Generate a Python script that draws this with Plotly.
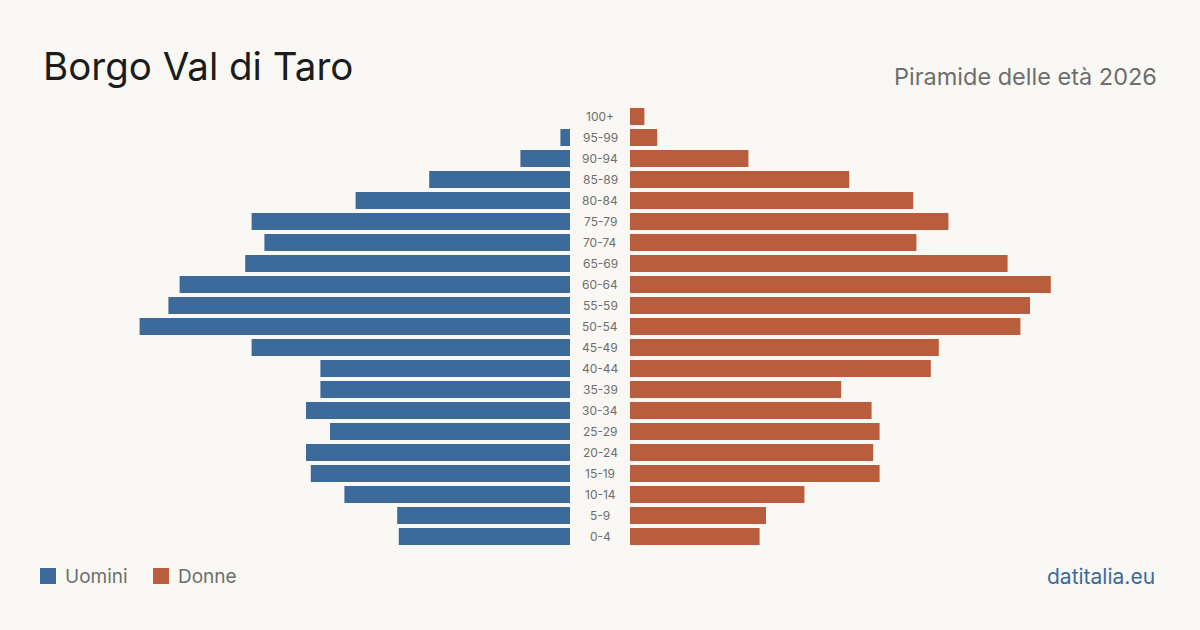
import plotly.graph_objects as go

# Data (bottom to top)
age_groups = ["0-4", "5-9", "10-14", "15-19", "20-24", "25-29", "30-34", "35-39",
              "40-44", "45-49", "50-54", "55-59", "60-64", "65-69", "70-74",
              "75-79", "80-84", "85-89", "90-94", "95-99", "100+"]
uomini = [107, 108, 141, 162, 165, 150, 165, 156, 156, 199, 269, 251, 244, 203,
          191, 199, 134, 88, 31, 6, 0]
donne = [81, 85, 109, 156, 152, 156, 151, 132, 188, 193, 244, 250, 263, 236,
         179, 199, 177, 137, 74, 17, 9]

title_text = "Borgo Val di Taro"
subtitle_text = "Piramide delle età 2026"
source_text = "datitalia.eu"
legend_labels = ["Uomini", "Donne"]

BLUE = "#3c6b9b"
ORANGE = "#b95d3c"
BG = "#f9f8f4"
FONT = "Inter, 'Noto Sans', sans-serif"
XMAX = 275

fig = go.Figure()
fig.add_trace(go.Bar(y=age_groups, x=uomini, orientation="h", marker_color=BLUE,
                     marker_line_width=0, xaxis="x", yaxis="y", name=legend_labels[0],
                     hoverinfo="x+y"))
fig.add_trace(go.Bar(y=age_groups, x=donne, orientation="h", marker_color=ORANGE,
                     marker_line_width=0, xaxis="x2", yaxis="y", name=legend_labels[1],
                     hoverinfo="x+y"))

W, H = 1200, 630
fig.update_layout(
    width=W, height=H,
    margin=dict(l=0, r=0, t=0, b=0),
    paper_bgcolor=BG, plot_bgcolor=BG,
    showlegend=False,
    bargap=0.19,
    font=dict(family=FONT),
    xaxis=dict(domain=[130 / W, 570 / W], range=[XMAX, 0], visible=False,
               anchor="y", fixedrange=True),
    xaxis2=dict(domain=[630 / W, 1070 / W], range=[0, XMAX], visible=False,
                anchor="y", fixedrange=True),
    yaxis=dict(domain=[(H - 547) / H, (H - 106) / H], type="category",
               categoryorder="array", categoryarray=age_groups,
               range=[-0.5, len(age_groups) - 0.5], visible=False, fixedrange=True),
)

# Age labels in the central gap
for a in age_groups:
    fig.add_annotation(x=0.5, xref="paper", y=a, yref="y", text=a, showarrow=False,
                       font=dict(size=12, color="#6e6e6e", family=FONT),
                       xanchor="center", yanchor="middle")

# Title and subtitle
fig.add_annotation(x=41 / W, y=1 - 66 / H, xref="paper", yref="paper", text=title_text,
                   showarrow=False, xanchor="left", yanchor="middle",
                   font=dict(size=38.5, color="#1c1c1c", family=FONT))
fig.add_annotation(x=1159 / W, y=1 - 76 / H, xref="paper", yref="paper", text=subtitle_text,
                   showarrow=False, xanchor="right", yanchor="middle",
                   font=dict(size=23.5, color="#6e6e6e", family=FONT))

# Legend (manual)
for i, (lab, col, sx) in enumerate([(legend_labels[0], BLUE, 40), (legend_labels[1], ORANGE, 153)]):
    fig.add_shape(type="rect", xref="paper", yref="paper",
                  x0=sx / W, x1=(sx + 16) / W, y0=1 - 584 / H, y1=1 - 568 / H,
                  fillcolor=col, line_width=0)
    fig.add_annotation(x=(sx + 23) / W, y=1 - 576 / H, xref="paper", yref="paper", text=lab,
                       showarrow=False, xanchor="left", yanchor="middle",
                       font=dict(size=19, color="#6e6e6e", family=FONT))

fig.add_annotation(x=1157 / W, y=1 - 576 / H, xref="paper", yref="paper", text=source_text,
                   showarrow=False, xanchor="right", yanchor="middle",
                   font=dict(size=21, color=BLUE, family=FONT))

fig.write_html("out.html", config={"displayModeBar": False})
